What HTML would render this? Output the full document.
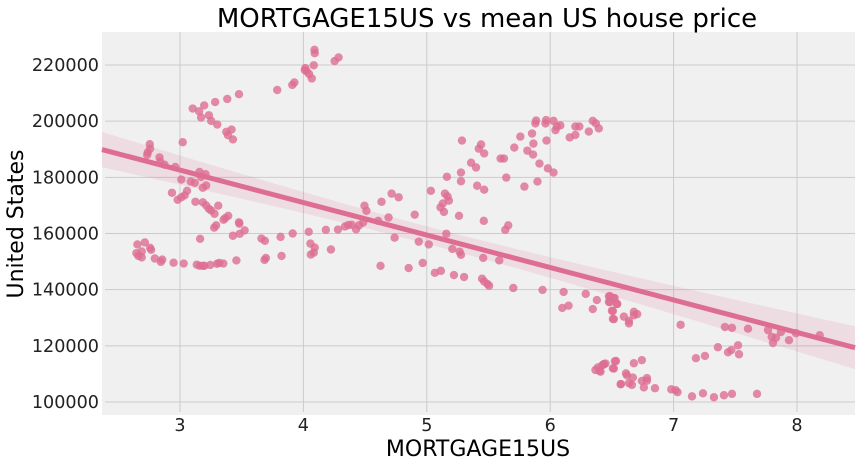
<!DOCTYPE html>
<html><head><meta charset="utf-8"><style>
body{margin:0;background:#fff;}
svg{display:block;font-family:"DejaVu Sans","Liberation Sans",sans-serif;}
</style></head><body>
<svg id="chart" width="861" height="466">
<rect x="0" y="0" width="861" height="466" fill="#ffffff"/>
<rect x="102" y="32" width="753" height="383" fill="#f0f0f0"/>
<g id="grid"></g>
<g id="band"></g>
<g id="points"></g>
<g id="line"></g>
<g id="ticks"></g>
<text x="487" y="27" text-anchor="middle" font-size="26" fill="#000">MORTGAGE15US vs mean US house price</text>
<text x="478" y="456" text-anchor="middle" font-size="22" fill="#000">MORTGAGE15US</text>
<text x="0" y="0" transform="translate(23,224) rotate(-90)" text-anchor="middle" font-size="22" fill="#000">United States</text>
</svg>
<script>
const xTicks = [3,4,5,6,7,8];
const yTicks = [100000,120000,140000,160000,180000,200000,220000];
const rateValues = [2.655,2.647,2.663,2.690,2.690,2.715,2.758,2.766,2.796,2.845,2.856,2.948,3.030,3.136,3.160,3.185,3.198,3.245,3.299,3.318,3.351,3.457,3.685,3.696,3.823,3.163,3.660,3.688,3.815,3.913,4.043,4.057,4.092,4.084,4.060,4.223,4.182,4.280,4.337,4.364,4.391,4.427,4.451,4.484,3.429,3.484,3.524,3.478,3.481,3.277,3.293,3.353,3.367,3.391,3.310,3.280,3.253,3.234,3.212,3.185,3.125,2.981,3.011,3.038,3.057,2.935,3.011,3.087,3.120,3.185,3.212,3.158,3.207,3.171,2.962,2.875,2.834,2.840,2.755,2.758,2.739,2.734,3.022,3.103,3.155,3.171,3.196,3.234,3.253,3.302,3.285,3.383,3.478,3.375,3.418,3.389,3.429,3.788,3.910,3.927,4.011,4.016,4.027,4.046,4.068,4.084,4.090,4.092,4.253,4.285,
4.495,4.511,4.606,4.633,4.690,4.715,4.772,4.739,4.625,4.853,4.902,4.935,4.967,5.016,5.033,5.065,5.114,5.111,5.130,5.139,5.147,5.179,5.168,5.163,5.158,5.207,5.261,5.266,5.277,5.277,5.277,5.285,5.220,5.302,5.359,5.399,5.408,5.421,5.440,5.465,5.465,5.462,5.457,5.448,5.465,5.492,5.505,5.587,5.598,5.625,5.644,5.636,5.660,5.701,5.709,5.758,5.791,5.815,5.853,5.864,5.861,5.880,5.886,5.913,5.897,5.938,5.962,5.967,5.970,5.981,6.027,6.027,6.043,6.054,6.082,6.109,6.098,6.149,6.158,6.204,6.204,6.236,6.288,6.313,6.345,6.370,6.394,6.345,6.378,6.484,6.484,6.522,6.508,6.516,6.543,6.367,6.386,6.408,6.432,6.448,6.516,6.533,6.571,
6.476,6.514,6.476,6.541,6.500,6.508,6.597,6.638,6.638,6.678,6.678,6.705,6.400,6.422,6.435,6.524,6.508,6.573,6.614,6.622,6.638,6.662,6.670,6.678,6.743,6.743,6.759,6.784,6.784,6.849,6.981,7.016,7.032,7.057,7.149,7.181,7.238,7.254,7.327,7.359,7.408,7.416,7.441,7.468,7.473,7.473,7.522,7.530,7.603,7.676,7.765,7.795,7.805,7.830,7.870,7.935,7.992,8.184];
const priceValues = [156.1,153.0,152.0,153.6,151.5,156.8,154.9,154.2,151.1,149.9,150.7,149.6,149.3,148.9,148.5,148.5,148.5,148.8,149.2,149.5,149.3,150.4,150.6,151.3,152.0,158.1,158.2,157.4,158.8,160.0,160.6,156.4,155.0,153.2,152.5,154.3,161.3,161.4,162.5,163.0,163.1,161.5,162.9,163.9,159.2,159.9,161.1,164.0,163.5,162.1,162.9,164.9,165.5,166.3,169.9,167.0,168.2,168.8,170.0,171.1,171.3,172.0,172.9,173.6,175.2,174.5,179.2,178.5,178.0,176.3,177.1,181.9,181.1,180.1,183.7,184.5,187.1,185.5,191.8,190.2,188.9,188.0,192.5,204.5,203.5,201.3,205.6,202.1,200.1,198.8,206.8,207.9,209.6,196.2,197.0,195.0,193.5,211.1,212.9,213.8,218.2,218.9,217.7,216.8,215.2,219.9,225.4,224.2,221.4,222.7,
169.9,168.1,164.5,171.3,165.7,174.2,172.9,158.5,148.5,147.7,166.7,157.1,149.5,156.1,175.2,146.0,146.7,169.3,170.7,167.7,174.2,171.7,173.2,180.2,159.9,154.5,166.3,153.5,152.4,178.6,181.7,193.1,145.2,144.5,185.2,183.5,177.0,190.2,191.7,188.5,175.6,164.5,151.3,143.9,142.9,142.0,141.4,150.4,186.7,186.7,179.9,161.3,162.9,140.6,190.6,194.5,176.7,189.5,195.6,192.0,188.1,199.2,200.2,184.9,178.5,139.9,199.2,200.4,193.1,183.2,181.7,200.1,196.8,198.1,198.5,139.2,133.5,134.3,194.2,195.1,198.1,198.1,138.5,196.3,200.1,199.2,197.4,133.1,136.3,137.7,135.6,137.0,132.4,129.5,134.9,111.4,112.3,110.8,113.3,113.7,111.9,114.6,106.3,
137.6,137.0,135.6,134.9,132.5,129.6,130.4,128.9,128.0,132.1,130.9,131.3,111.1,113.1,113.5,114.5,112.0,106.4,110.2,109.5,106.7,106.1,108.7,113.8,114.9,107.5,105.2,108.5,107.6,104.9,104.5,104.2,103.5,127.5,102.0,115.6,103.1,116.4,101.7,119.5,102.4,126.7,117.7,118.5,126.4,102.9,120.2,117.0,126.1,102.9,125.6,123.2,121.0,122.9,124.9,122.0,124.5,123.8];

const NS='http://www.w3.org/2000/svg';
const L=102,R=855,T=32,B=415;
const xMin=2.368,xMax=8.47,yMin=95370,yMax=231750;
function sx(v){return L+(v-xMin)/(xMax-xMin)*(R-L);}
function sy(v){return B-(v-yMin)/(yMax-yMin)*(B-T);}
function mk(tag,attrs,parent){const e=document.createElementNS(NS,tag);for(const k in attrs)e.setAttribute(k,attrs[k]);parent.appendChild(e);return e;}

const grid=document.getElementById('grid'),ticks=document.getElementById('ticks');
xTicks.forEach(t=>{
  const g=mk('line',{x1:sx(t),x2:sx(t),y1:T,y2:B-3,stroke:'#cbcbcb','stroke-width':1},grid);
  
  
  const tx=mk('text',{x:sx(t),y:431,'text-anchor':'middle','font-size':17.6,fill:'#222'},ticks);
  tx.textContent=t;
  
  
});
yTicks.forEach(t=>{
  const g=mk('line',{x1:L+3,x2:R,y1:sy(t),y2:sy(t),stroke:'#cbcbcb','stroke-width':1},grid);
  
  
  const tx=mk('text',{x:99,y:sy(t)+6,'text-anchor':'end','font-size':17.6,fill:'#222'},ticks);
  tx.textContent=t;
  
  
});

// regression
const n=rateValues.length;
const ys=priceValues.map(v=>v*1000);
let mx=0,my=0;for(let i=0;i<n;i++){mx+=rateValues[i];my+=ys[i];}mx/=n;my/=n;
let sxx=0,sxy=0;for(let i=0;i<n;i++){sxx+=(rateValues[i]-mx)**2;sxy+=(rateValues[i]-mx)*(ys[i]-my);}
const b=sxy/sxx,a=my-b*mx;
let sse=0;for(let i=0;i<n;i++){sse+=(ys[i]-a-b*rateValues[i])**2;}
const s=Math.sqrt(sse/(n-2));
const up=[],lo=[];
for(let k=0;k<=60;k++){const x=xMin+(xMax-xMin)*k/60;const yh=a+b*x;const se=1.97*s*Math.sqrt(1/n+(x-mx)**2/sxx);up.push(sx(x)+','+sy(yh+se));lo.unshift(sx(x)+','+sy(yh-se));}
const band=mk('polygon',{points:up.concat(lo).join(' '),fill:'#dd6e92','fill-opacity':0.15},document.getElementById('band'));



const pts=document.getElementById('points');
for(let i=0;i<n;i++){
  const c=mk('circle',{cx:sx(rateValues[i]),cy:sy(ys[i]),r:4.2,fill:'#dd6e92','fill-opacity':0.8},pts);
  
  
}
const ln=mk('line',{x1:sx(xMin),y1:sy(a+b*xMin),x2:sx(xMax),y2:sy(a+b*xMax),stroke:'#dd6e92','stroke-width':5},document.getElementById('line'));


</script>
</body></html>
